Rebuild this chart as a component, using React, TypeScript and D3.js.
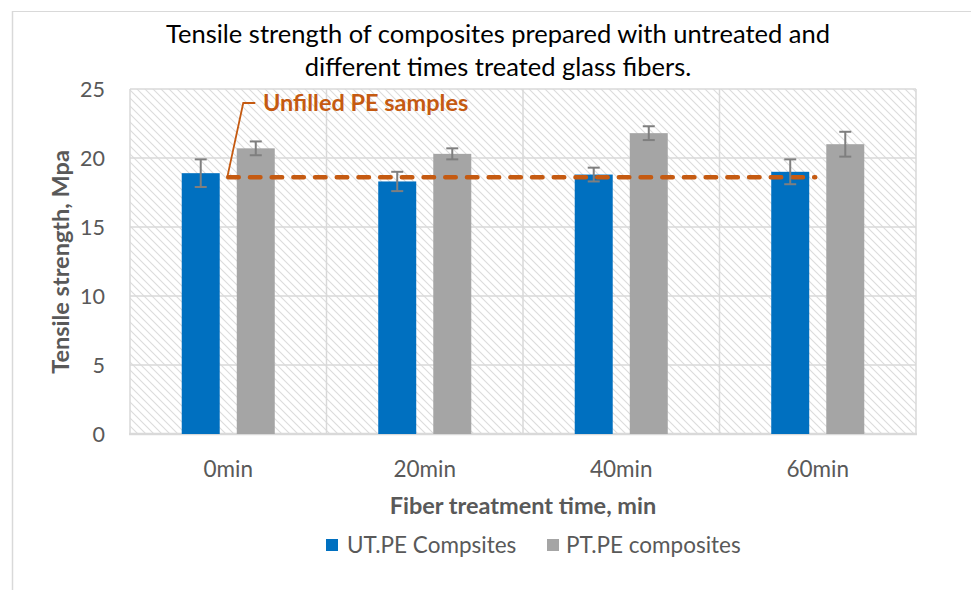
import { scaleBand, scaleLinear } from "d3";

const width = 971;
const height = 590;

const categories = ["0min", "20min", "40min", "60min"];
const seriesNames = ["UT.PE Compsites", "PT.PE composites"];
const seriesColors = ["#0070C0", "#A5A5A5"];
const utValues = [18.9, 18.3, 18.8, 19.0];
const utErrors = [1.0, 0.7, 0.5, 0.9];
const ptValues = [20.7, 20.3, 21.8, 21.0];
const ptErrors = [0.5, 0.4, 0.5, 0.9];
const yTicks = [0, 5, 10, 15, 20, 25];
const unfilledPE = 18.6;
const unfilledLabel = "Unfilled PE samples";
const titleLines = [
  "Tensile strength of composites prepared with untreated and",
  "different times treated glass fibers.",
];

const font = "Lato, 'Open Sans', sans-serif";
const textColor = "#595959";
const orange = "#C55A11";

const plot = { left: 130, right: 916, top: 89, bottom: 434 };

const App = () => {
  const x = scaleBand().domain(categories).range([plot.left, plot.right]);
  const y = scaleLinear().domain([0, 25]).range([plot.bottom, plot.top]);
  const inner = scaleBand()
    .domain(seriesNames)
    .range([0, x.bandwidth()])
    .paddingInner(0.31)
    .paddingOuter(0.94);

  const series = [
    { name: seriesNames[0], values: utValues, errors: utErrors, color: seriesColors[0] },
    { name: seriesNames[1], values: ptValues, errors: ptErrors, color: seriesColors[1] },
  ];

  const lineStart = x(categories[0])! + x.bandwidth() / 2;
  const lineEnd = x(categories[3])! + inner(seriesNames[0])! + inner.bandwidth() + 6;
  const lineY = y(unfilledPE);

  return (
    <svg width={width} height={height} style={{ position: "absolute", left: 0, top: 0 }}>
      <defs>
        <pattern id="hatch" width="8" height="8" patternUnits="userSpaceOnUse">
          <rect width="8" height="8" fill="#ffffff" />
          <path d="M-2,-2 L10,10 M-2,6 L2,10 M6,-2 L10,2" stroke="#dcdcdc" strokeWidth="1.1" />
        </pattern>
      </defs>
      <rect x={0} y={0} width={width} height={height} fill="#ffffff" />
      {/* outer chart border */}
      <line x1={12.5} y1={11} x2={12.5} y2={590} stroke="#d9d9d9" strokeWidth={1.5} />
      <line x1={12.5} y1={11.5} x2={971} y2={11.5} stroke="#d9d9d9" strokeWidth={1} />

      {titleLines.map((t, i) => (
        <text key={t} x={498} y={43 + i * 33} textAnchor="middle" fontFamily={font} fontSize={25.5} fill="#000">
          {t}
        </text>
      ))}

      {/* plot background */}
      <rect x={plot.left} y={plot.top} width={plot.right - plot.left} height={plot.bottom - plot.top} fill="url(#hatch)" />
      {yTicks.map((t) => (
        <line key={t} x1={plot.left} x2={plot.right} y1={y(t)} y2={y(t)} stroke="#d9d9d9" strokeWidth={1.5} />
      ))}
      {categories.map((c) => (
        <line key={c} x1={x(c)!} x2={x(c)!} y1={plot.top} y2={plot.bottom} stroke="#d9d9d9" strokeWidth={1.5} />
      ))}
      <line x1={plot.right} x2={plot.right} y1={plot.top} y2={plot.bottom} stroke="#d9d9d9" strokeWidth={1.5} />
      <line x1={plot.left - 1} x2={plot.right + 1} y1={plot.bottom} y2={plot.bottom} stroke="#d9d9d9" strokeWidth={2.5} />

      {yTicks.map((t) => (
        <text key={t} x={105} y={y(t) + 8} textAnchor="end" fontFamily={font} fontSize={21.5} fill={textColor}>
          {t}
        </text>
      ))}

      {/* bars */}
      {series.map((s) =>
        categories.map((c, i) => {
          const bx = x(c)! + inner(s.name)!;
          return (
            <rect
              key={s.name + c}
              x={bx}
              y={y(s.values[i])}
              width={inner.bandwidth()}
              height={y(0) - y(s.values[i])}
              fill={s.color}
            />
          );
        })
      )}

      {/* unfilled PE reference line */}
      <line
        x1={lineStart}
        x2={lineEnd}
        y1={lineY}
        y2={lineY}
        stroke={orange}
        strokeWidth={4.5}
        strokeDasharray="10.5 11.2"
        strokeLinecap="round"
      />

      {/* error bars */}
      {series.map((s) =>
        categories.map((c, i) => {
          const cx = x(c)! + inner(s.name)! + inner.bandwidth() / 2;
          const hi = y(s.values[i] + s.errors[i]);
          const lo = y(s.values[i] - s.errors[i]);
          return (
            <g key={"e" + s.name + c} stroke="#7f7f7f" strokeWidth={2}>
              <line x1={cx} x2={cx} y1={hi} y2={lo} />
              <line x1={cx - 6} x2={cx + 6} y1={hi} y2={hi} />
              <line x1={cx - 6} x2={cx + 6} y1={lo} y2={lo} />
            </g>
          );
        })
      )}

      {/* annotation */}
      <polyline
        points={`${lineStart - 1},${lineY} ${lineStart + 15},${103} ${lineStart + 27},${103}`}
        fill="none"
        stroke={orange}
        strokeWidth={1.8}
      />
      <text x={263} y={111} fontFamily={font} fontSize={23.5} fontWeight="bold" fill={orange}>
        {unfilledLabel}
      </text>

      {categories.map((c) => (
        <text key={c} x={x(c)! + x.bandwidth() / 2} y={477} textAnchor="middle" fontFamily={font} fontSize={22.5} fill={textColor}>
          {c}
        </text>
      ))}

      <text x={523} y={514} textAnchor="middle" fontFamily={font} fontSize={23.5} fontWeight="bold" fill={textColor}>
        Fiber treatment time, min
      </text>
      <text
        transform={`translate(69,262) rotate(-90)`}
        textAnchor="middle"
        fontFamily={font}
        fontSize={23.5}
        fontWeight="bold"
        fill={textColor}
      >
        Tensile strength, Mpa
      </text>

      {/* legend */}
      <rect x={326} y={539} width={12} height={12} fill={seriesColors[0]} />
      <text x={347} y={553} fontFamily={font} fontSize={22.5} fill={textColor}>{seriesNames[0]}</text>
      <rect x={547} y={539} width={12} height={12} fill={seriesColors[1]} />
      <text x={566} y={553} fontFamily={font} fontSize={22.5} fill={textColor}>{seriesNames[1]}</text>
    </svg>
  );
};

export default App;
